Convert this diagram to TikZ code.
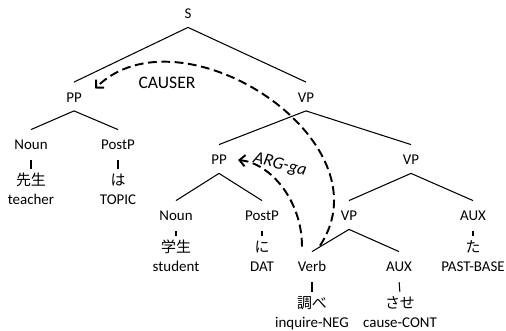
\documentclass[tikz,border=0pt]{standalone}
\usepackage{fontspec}
\setmainfont{Carlito}
\newfontfamily\jafont{Noto Sans CJK JP}
\usetikzlibrary{arrows.meta}
\definecolor{TreeInk}{HTML}{000000}
\tikzset{
  tree/.style={font=\fontsize{8.5}{10.8}\selectfont,text=TreeInk},
  cat/.style={inner xsep=2pt,inner ysep=4pt,text height=0.72em,text depth=0.08em},
  word/.style={align=center,anchor=north,inner xsep=2pt,inner ysep=1pt},
  branch/.style={line width=0.6pt,draw=TreeInk},
  stem/.style={line width=0.6pt,draw=TreeInk,shorten <=1pt,shorten >=1pt},
  relation/.style={line width=1.1pt,draw=TreeInk,dash pattern=on 5pt off 2.6pt,
    -{Straight Barb[length=3.2pt,width=6.4pt]}},
  role/.style={font=\fontsize{10}{12}\selectfont},
}

\begin{document}
\begin{tikzpicture}[tree]
  \useasboundingbox (0,0) rectangle (10.12,6.62);

  % categories
  \node[cat] (S) at (3.76,6.36) {S};
  \node[cat] (PPa) at (1.48,4.69) {PP};
  \node[cat] (VPa) at (6.12,4.69) {VP};
  \node[cat] (NounA) at (0.62,3.74) {Noun};
  \node[cat] (PostPa) at (2.36,3.74) {PostP};
  \node[cat] (PPb) at (4.38,3.44) {PP};
  \node[cat] (VPb) at (8.22,3.44) {VP};
  \node[cat] (NounB) at (3.52,2.32) {Noun};
  \node[cat] (PostPb) at (5.24,2.32) {PostP};
  \node[cat] (VPc) at (6.98,2.32) {VP};
  \node[cat] (AUXa) at (9.46,2.32) {AUX};
  \node[cat] (Verb) at (6.24,1.30) {Verb};
  \node[cat] (AUXb) at (7.98,1.30) {AUX};

  % words and glosses
  \node[word] (sensei) at (0.62,3.21) {{\jafont\strut 先生}\\teacher};
  \node[word] (wa) at (2.36,3.21) {{\jafont\strut は}\\TOPIC};
  \node[word] (gakusei) at (3.52,1.87) {{\jafont\strut 学生}\\student};
  \node[word] (ni) at (5.24,1.87) {{\jafont\strut に}\\DAT};
  \node[word] (ta) at (9.46,1.87) {{\jafont\strut た}\\PAST-BASE};
  \node[word] (shirabe) at (6.24,0.75) {{\jafont\strut 調べ}\\inquire-NEG};
  \node[word] (sase) at (8.00,0.75) {{\jafont\strut させ}\\cause-CONT};

  % branches
  \draw[branch] (S.south) -- (PPa.north);
  \draw[branch] (S.south) -- (VPa.north);
  \draw[branch] (PPa.south) -- (NounA.north);
  \draw[branch] (PPa.south) -- (PostPa.north);
  \draw[branch] (VPa.south) -- (PPb.north);
  \draw[branch] (VPa.south) -- (VPb.north);
  \draw[branch] (PPb.south) -- (NounB.north);
  \draw[branch] (PPb.south) -- (PostPb.north);
  \draw[branch] (VPb.south) -- (VPc.north);
  \draw[branch] (VPb.south) -- (AUXa.north);
  \draw[branch] (VPc.south) -- (Verb.north);
  \draw[branch] (VPc.south) -- (AUXb.north);

  \draw[stem] (NounA.south) -- (sensei.north);
  \draw[stem] (PostPa.south) -- (wa.north);
  \draw[stem] (NounB.south) -- (gakusei.north);
  \draw[stem] (PostPb.south) -- (ni.north);
  \draw[stem] (AUXa.south) -- (ta.north);
  \draw[stem] (Verb.south) -- (shirabe.north);
  \draw[stem] (AUXb.south) -- (sase.north);

  % argument links
  \draw[relation] ([shift={(0.16,0.12)}]Verb.north)
    .. controls (7.80,3.82) and (3.60,6.52) .. ([shift={(0.19,0.16)}]PPa.east);
  \draw[relation] ([shift={(-0.2,0.1)}]Verb.north)
    .. controls (6.04,2.62) and (5.40,3.36) .. ([shift={(0.15,-0.02)}]PPb.east);
  \node[role] (causer) at (3.34,4.96) {CAUSER};
  \node[role,rotate=-14] (argga) at (5.60,3.32) {\itshape ARG-ga};
\end{tikzpicture}
\end{document}
